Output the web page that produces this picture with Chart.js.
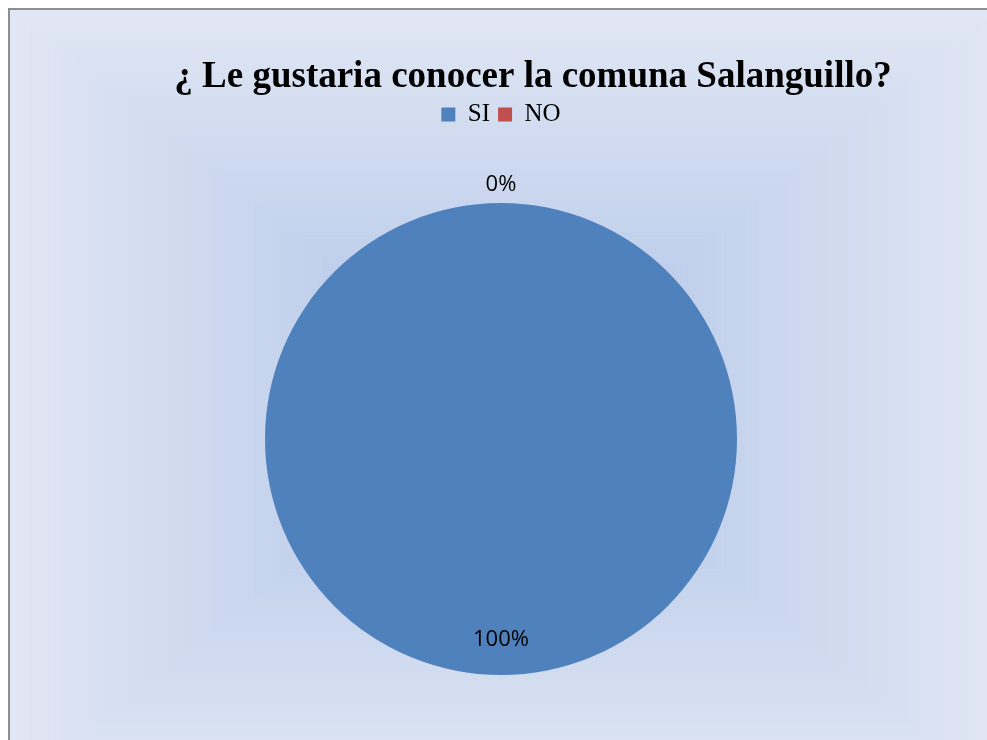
<!DOCTYPE html>
<html>
<head>
<meta charset="utf-8">
<title>¿ Le gustaria conocer la comuna Salanguillo?</title>
<script src="https://cdn.jsdelivr.net/npm/chart.js@4/dist/chart.umd.min.js"></script>
<style>
    html, body { margin: 0; padding: 0; overflow: hidden; background: #ffffff; }
    #wrap { position: absolute; left: 0; top: 0; width: 1000px; height: 780px; }
</style>
</head>
<body>
<div id="wrap"><canvas id="pieChart" width="1000" height="780"></canvas></div>
<script>
// ==============================
// Data
// ==============================
const chartTitle = "¿ Le gustaria conocer la comuna Salanguillo?";
const categories = ["SI", "NO"];
const values = [100, 0];
const sliceColors = ["#4f81bd", "#c0504d"];

// ==============================
// Background: rectangular gradient + frame
// ==============================
const frameBackground = {
    id: "frameBackground",
    beforeDraw(chart) {
        const ctx = chart.ctx;
        const W = chart.width, H = chart.height;
        const x0 = 9, y0 = 9, x1 = 1002, y1 = 792;
        const cx = (x0 + x1) / 2, cy = (y0 + y1) / 2;
        const hw = (x1 - x0) / 2, hh = (y1 - y0) / 2;
        const inner = [190, 206, 235];
        const outer = [225, 231, 244];
        ctx.save();
        ctx.fillStyle = "#ffffff";
        ctx.fillRect(0, 0, W, H);
        const steps = 500;
        for (let i = steps; i >= 0; i--) {
            const t = i / steps;
            let k = (t - 0.3) / 0.7;
            if (k < 0) k = 0;
            const c = inner.map((v, j) => v + (outer[j] - v) * k);
            ctx.fillStyle = `rgb(${c[0].toFixed(1)},${c[1].toFixed(1)},${c[2].toFixed(1)})`;
            ctx.fillRect(cx - hw * t, cy - hh * t, hw * 2 * t, hh * 2 * t);
        }
        ctx.fillStyle = "#8e8e8e";
        ctx.fillRect(8, 8, 2, H);
        ctx.fillRect(8, 8, W, 2);
        ctx.restore();
    }
};

// ==============================
// Title drawn a bit right of centre like the original
// ==============================
const offsetTitle = {
    id: "offsetTitle",
    afterDraw(chart) {
        const ctx = chart.ctx;
        ctx.save();
        ctx.font = "bold 37px 'Liberation Serif', 'Times New Roman', serif";
        ctx.fillStyle = "#000000";
        ctx.textAlign = "center";
        ctx.textBaseline = "alphabetic";
        ctx.fillText(chartTitle, 533, 87);
        ctx.restore();
    }
};

// ==============================
// Percentage labels
// ==============================
const pctLabels = {
    id: "pctLabels",
    afterDatasetsDraw(chart) {
        const ctx = chart.ctx;
        const meta = chart.getDatasetMeta(0);
        const data = chart.data.datasets[0].data;
        const total = data.reduce((a, b) => a + b, 0);
        ctx.save();
        ctx.font = "22px 'Open Sans', 'Liberation Sans', sans-serif";
        ctx.fillStyle = "#000000";
        ctx.textAlign = "center";
        ctx.textBaseline = "middle";
        meta.data.forEach((arc, i) => {
            const p = arc.getProps(["x", "y", "startAngle", "endAngle", "outerRadius"], true);
            const mid = (p.startAngle + p.endAngle) / 2;
            const dist = data[i] > 0 ? p.outerRadius * 0.84 : p.outerRadius + 20;
            const pct = total > 0 ? Math.round(data[i] / total * 100) : 0;
            ctx.fillText(pct + "%", p.x + Math.cos(mid) * dist, p.y + Math.sin(mid) * dist + 2);
        });
        ctx.restore();
    }
};

const ctx = document.getElementById("pieChart");

new Chart(ctx, {
    type: "pie",
    data: {
        labels: categories,
        datasets: [{
            data: values,
            backgroundColor: sliceColors,
            borderWidth: 0
        }]
    },
    options: {
        responsive: false,
        animation: false,
        devicePixelRatio: 1,
        layout: {
            padding: { top: 94, left: 265, right: 263, bottom: 39 }
        },
        plugins: {
            title: { display: false },
            tooltip: { enabled: false },
            legend: {
                position: "top",
                labels: {
                    boxWidth: 14,
                    boxHeight: 14,
                    padding: 8,
                    color: "#000000",
                    font: { family: "'Liberation Serif', 'Times New Roman', serif", size: 25 }
                }
            }
        }
    },
    plugins: [frameBackground, pctLabels, offsetTitle]
});
</script>
</body>
</html>
